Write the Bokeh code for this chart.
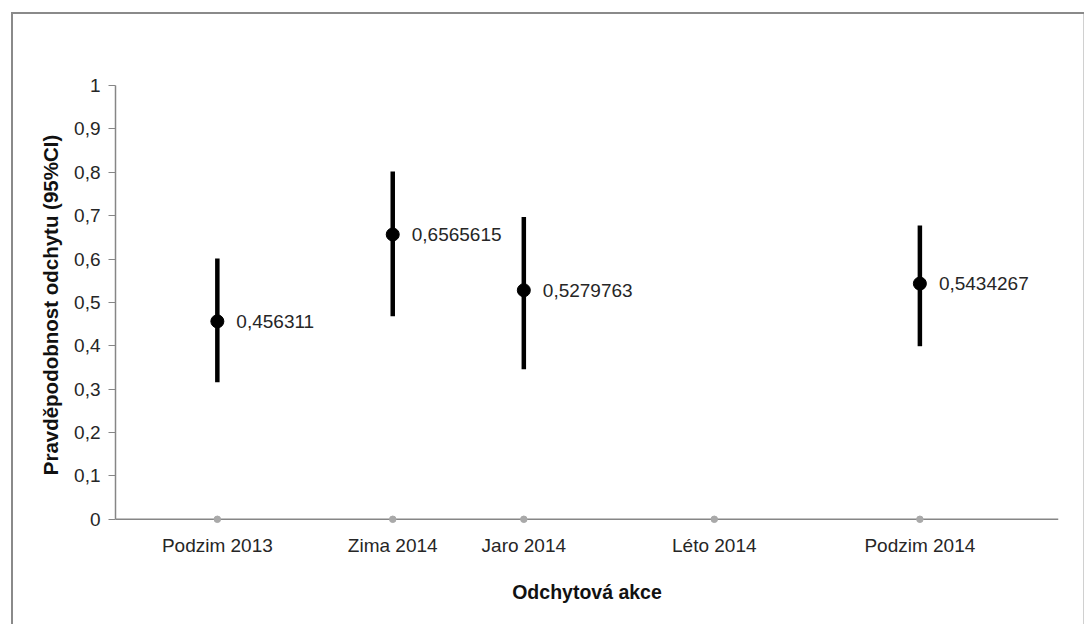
from bokeh.plotting import figure
from bokeh.models import (ColumnDataSource, Range1d, FixedTicker, CustomJSTickFormatter, Span)
from bokeh.core.properties import value
from bokeh.embed import file_html
from bokeh.resources import INLINE

# Capture events and their positions along the time axis
events = ["Podzim 2013", "Zima 2014", "Jaro 2014", "Léto 2014", "Podzim 2014"]
event_pos = [108, 294, 433, 635, 853]

# Estimated capture probability with 95% CI (no estimate for Léto 2014)
est_events = ["Podzim 2013", "Zima 2014", "Jaro 2014", "Podzim 2014"]
estimate = [0.456311, 0.6565615, 0.5279763, 0.5434267]
ci_low = [0.316, 0.468, 0.346, 0.399]
ci_high = [0.601, 0.802, 0.697, 0.677]

y_ticks = [0, 0.1, 0.2, 0.3, 0.4, 0.5, 0.6, 0.7, 0.8, 0.9, 1.0]

FONT = "Liberation Sans"
AXIS_GRAY = "#868686"
TEXT_GRAY = "#262626"

pos_of = dict(zip(events, event_pos))
est_x = [pos_of[e] for e in est_events]

src = ColumnDataSource(dict(
    x=est_x,
    est=estimate,
    lo=ci_low,
    hi=ci_high,
    lab=[str(v).replace(".", ",") for v in estimate],
))
base = ColumnDataSource(dict(x=event_pos, y=[0] * len(event_pos)))

p = figure(width=1084, height=624, output_backend="svg", toolbar_location=None,
           x_range=Range1d(0, 1000), y_range=Range1d(-0.012, 1.0),
           min_border_left=115, min_border_right=26,
           min_border_top=85, min_border_bottom=100,
           background_fill_color="white", border_fill_color=None)
p.outline_line_color = None
p.grid.visible = False

# Chart area frame, painted behind the transparent canvas border
p.styles = {
    "background": (
        "linear-gradient(#8a8a8a, #8a8a8a) 11px 12px / 1073px 2px no-repeat, "
        "linear-gradient(#8a8a8a, #8a8a8a) 11px 12px / 2px 612px no-repeat, "
        "linear-gradient(#d0d0d0, #d0d0d0) 1083px 14px / 1px 610px no-repeat, "
        "white"
    )
}

# Baseline at zero
p.add_layout(Span(location=0, dimension="width", line_color=AXIS_GRAY, line_width=1.5))

# Confidence intervals, point estimates and value labels
p.segment(x0="x", y0="lo", x1="x", y1="hi", source=src,
          line_color="black", line_width=4.5)
p.scatter(x="x", y="est", source=src, size=13, color="black")
p.text(x="x", y="est", text="lab", source=src, x_offset=19,
       text_baseline="middle", text_align="left",
       text_font=value(FONT), text_font_size="19px", text_color=TEXT_GRAY)

# Markers of each capture event on the baseline
dots = p.scatter(x="x", y="y", source=base, size=6.5, color="#a9a9a9")
dots.level = "overlay"

# Axes
xa = p.xaxis[0]
xa.ticker = FixedTicker(ticks=event_pos)
xa.major_label_overrides = {pos: name for pos, name in zip(event_pos, events)}
xa.major_tick_in = 0
xa.major_tick_out = 0
xa.minor_tick_line_color = None
xa.axis_line_color = None
xa.major_label_standoff = 10
xa.major_label_text_font = FONT
xa.major_label_text_font_size = "19px"
xa.major_label_text_color = TEXT_GRAY
xa.axis_label = "Odchytová akce"
xa.axis_label_text_font = FONT
xa.axis_label_text_font_style = "bold"
xa.axis_label_text_font_size = "19.5px"
xa.axis_label_text_color = "#111111"
xa.axis_label_standoff = 22

ya = p.yaxis[0]
ya.bounds = (0, 1)
ya.ticker = FixedTicker(ticks=y_ticks)
ya.formatter = CustomJSTickFormatter(
    code="return (Math.round(tick * 10) / 10).toString().replace('.', ',');")
ya.major_tick_in = 0
ya.major_tick_out = 7
ya.major_tick_line_color = AXIS_GRAY
ya.minor_tick_line_color = None
ya.axis_line_color = AXIS_GRAY
ya.axis_line_width = 1.5
ya.major_label_standoff = 8
ya.major_label_text_font = FONT
ya.major_label_text_font_size = "19px"
ya.major_label_text_color = TEXT_GRAY
ya.axis_label = "Pravděpodobnost odchytu (95%CI)"
ya.axis_label_text_font = FONT
ya.axis_label_text_font_style = "bold"
ya.axis_label_text_font_size = "20.5px"
ya.axis_label_text_color = "#111111"
ya.axis_label_standoff = 9

open("out.html", "w").write(file_html(p, INLINE))
